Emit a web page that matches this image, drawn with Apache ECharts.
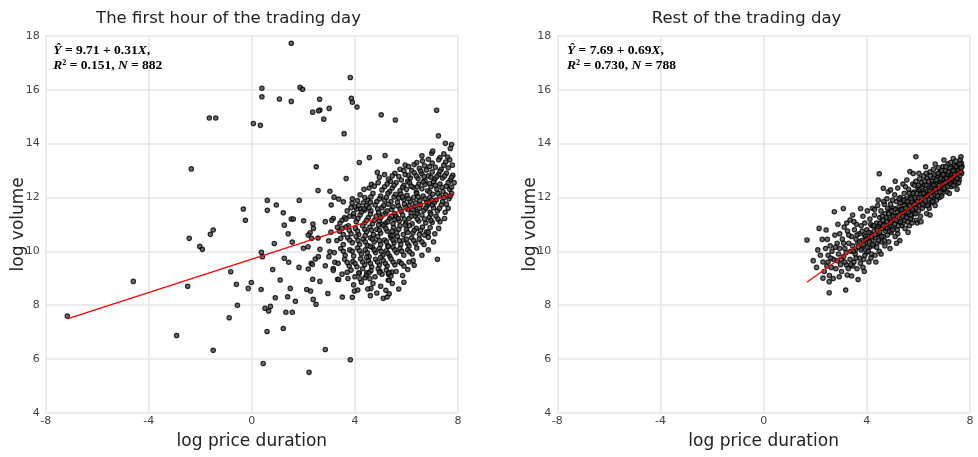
<!DOCTYPE html>
<html>
<head>
<meta charset="utf-8">
<title>Price duration vs. volume</title>
<script src="https://cdn.jsdelivr.net/npm/echarts@6/dist/echarts.min.js"></script>
<style>
  html, body { margin: 0; padding: 0; background: #fff; }
  #chart { width: 978px; height: 457px; }
</style>
</head>
<body>
<div id="chart"></div>
<script>
// ---- panel titles and axis text ----
const panelTitles = ['The first hour of the trading day', 'Rest of the trading day'];
const xAxisTitle = 'log price duration';
const yAxisTitle = 'log volume';
const xTicks = [-8, -4, 0, 4, 8];
const yTicks = [4, 6, 8, 10, 12, 14, 16, 18];

// ---- OLS fit results: [intercept, slope, R², N] ----
const firstHourFit = [9.71, 0.31, 0.151, 882];
const restOfDayFit = [7.69, 0.69, 0.730, 788];

// ---- first hour: points away from the main cloud [log duration, log volume] ----
const firstHourScattered = [
  [1.53,17.73],[3.82,16.46],[0.39,16.06],[0.39,15.74],[1.87,16.09],[1.97,16.02],[1.07,15.66],[1.53,15.57],
  [2.63,15.65],[3.86,15.68],[3.90,15.54],[4.08,15.36],[3.00,15.31],[2.64,15.25],[2.59,15.22],[2.36,15.17],
  [2.79,14.91],[-1.65,14.95],[-1.40,14.95],[0.06,14.75],[0.33,14.68],[3.58,14.37],[5.02,15.07],[5.57,14.88],
  [7.17,15.24],[7.24,14.29],[7.51,14.01],[7.75,13.97],[-2.35,13.06],[5.17,13.56],[4.56,13.48],[5.64,13.34],
  [4.17,13.30],[6.98,13.64],[2.50,13.14],[3.66,12.70],[4.87,12.93],[4.64,12.49],[2.57,12.26],[3.03,12.23],
  [3.19,12.01],[3.37,11.94],[3.55,11.84],[3.89,11.79],[3.08,11.72],[0.60,11.89],[0.60,11.52],[0.95,11.72],
  [1.84,11.89],[-0.33,11.57],[-0.25,11.15],[1.22,11.43],[1.53,11.20],[1.61,11.20],[2.01,11.13],[1.26,10.97],
  [2.85,11.10],[2.37,11.01],[-1.50,10.79],[-7.16,7.59],[-4.60,8.88],[-2.49,8.70],[-2.43,10.48],[-2.02,10.18],
  [-1.92,10.07],[-1.61,10.63],[-2.92,6.87],[-1.50,6.32],[-0.82,9.24],[-0.60,8.77],[-0.88,7.53],[-0.56,7.99],
  [-0.14,8.62],[-0.02,8.84],[0.37,9.96],[0.41,9.80],[0.36,8.58],[0.51,7.88],[0.65,7.78],[0.72,7.95],
  [0.59,7.02],[0.44,5.83],[0.81,9.32],[0.87,10.29],[1.10,8.93],[0.91,8.27],[1.26,9.74],[1.41,10.65],
  [1.43,9.59],[1.49,8.62],[1.39,8.31],[1.32,7.73],[1.57,7.73],[1.22,7.13],[1.69,8.14],[1.57,10.34],
  [1.83,9.40],[2.13,8.58],[2.28,8.52],[2.19,9.34],[2.00,10.11],[2.22,5.50],[2.38,8.21],[2.49,8.03],
  [2.30,9.55],[2.35,9.51],[2.36,8.96],[2.64,8.88],[2.46,9.71],[2.64,10.07],[2.85,6.35],[2.95,8.43],
  [2.85,9.46],[2.99,9.80],[3.82,5.97],[3.33,8.96],[3.37,8.95],[3.51,8.30],[3.90,8.29],[3.98,8.52],
  [4.11,8.56],[3.73,8.99],[3.16,9.36],[3.16,9.29],[3.22,9.59],[3.03,9.98],[5.10,8.25],[5.33,8.42],
  [4.62,8.62],[6.26,9.65],[5.29,8.92],[5.33,8.92],[5.43,9.23],[5.30,9.15],[4.58,8.98],[4.20,8.98],
  [4.97,9.26],[4.07,11.57],[4.22,11.59],[4.33,11.80],[4.39,11.53],[2.39,10.85],[2.26,10.69],[2.19,10.60],
  [2.32,10.48],[3.16,11.22],[3.32,10.89],[3.07,10.71],[2.98,10.39],[2.57,10.49],[2.18,10.17],[2.58,9.80],
  [4.17,9.18],[4.39,9.02],[4.46,9.20],[3.10,11.15],[3.42,11.05],[3.60,11.25],[3.75,10.95],[3.95,11.30]
];

// ---- first hour: the dense cloud at long durations ----
const firstHourCluster = [
  [6.85,13.42],[7.02,13.72],[7.30,13.48],[7.45,13.62],[7.60,13.50],[6.60,13.55],[7.70,13.82],
  [5.75,13.05],[5.95,13.20],[6.30,13.22],[6.50,13.08],[6.62,13.35],[6.78,13.02],[7.00,13.28],[7.12,13.12],
  [7.35,13.05],[7.52,13.32],[7.62,13.10],[7.78,13.20],[6.20,13.00],[6.90,13.15],
  [4.95,12.75],[5.30,12.68],[5.55,12.90],[5.80,12.65],[5.95,12.85],[6.15,12.72],[6.30,12.92],[6.45,12.70],
  [6.60,12.88],[6.72,12.62],[6.85,12.80],[7.00,12.95],[7.10,12.68],[7.25,12.85],[7.40,12.72],[7.55,12.90],
  [7.70,12.65],[7.80,12.82],[6.05,12.60],[6.55,12.98],
  [4.35,12.30],[4.75,12.42],[5.05,12.28],[5.25,12.50],[5.45,12.35],[5.60,12.55],[5.75,12.25],[5.90,12.45],
  [6.00,12.30],[6.12,12.55],[6.25,12.38],[6.38,12.20],[6.48,12.50],[6.60,12.32],[6.72,12.48],[6.82,12.25],
  [6.95,12.40],[7.05,12.58],[7.18,12.30],[7.30,12.50],[7.42,12.22],[7.55,12.42],[7.68,12.30],[7.85,12.55],
  [5.35,12.22],[6.90,12.20],
  [3.90,11.95],[4.20,12.10],[4.50,11.90],[4.70,12.15],[4.85,11.85],[5.00,12.05],[5.15,11.90],[5.28,12.15],
  [5.40,11.85],[5.52,12.02],[5.65,11.82],[5.78,12.12],[5.90,11.92],[6.02,12.08],[6.15,11.85],[6.28,12.00],
  [6.40,12.15],[6.52,11.88],[6.65,12.05],[6.78,11.82],[6.90,12.00],[7.02,12.12],[7.15,11.90],[7.28,12.05],
  [7.40,11.85],[7.52,12.10],[7.65,11.95],[7.75,12.15],[4.60,11.82],[5.70,11.98],[6.35,11.80],[7.08,11.80],
  [3.70,11.50],[4.00,11.65],[4.25,11.45],[4.45,11.70],[4.62,11.50],[4.78,11.72],[4.92,11.45],[5.05,11.62],
  [5.18,11.42],[5.30,11.75],[5.42,11.55],[5.55,11.40],[5.68,11.68],[5.80,11.48],[5.92,11.75],[6.05,11.55],
  [6.18,11.42],[6.30,11.65],[6.42,11.48],[6.55,11.72],[6.68,11.52],[6.80,11.68],[6.92,11.45],[7.05,11.62],
  [7.20,11.50],[7.35,11.72],[7.50,11.45],[7.62,11.60],[4.35,11.58],[5.25,11.50],[6.10,11.70],[6.88,11.78],
  [3.50,11.15],[3.80,11.30],[4.05,11.10],[4.20,11.35],[4.38,11.05],[4.52,11.25],[4.68,11.02],[4.82,11.30],
  [4.95,11.12],[5.08,11.35],[5.20,11.05],[5.35,11.22],[5.48,11.02],[5.60,11.30],[5.72,11.12],[5.85,11.35],
  [5.98,11.05],[6.10,11.22],[6.22,11.02],[6.35,11.30],[6.48,11.12],[6.60,11.35],[6.75,11.05],[6.88,11.25],
  [7.00,11.08],[7.15,11.30],[7.30,11.10],[7.48,11.22],[3.95,11.40],[4.60,11.38],[5.55,11.18],[6.40,11.40],
  [6.95,11.38],[5.05,11.00],
  [3.40,10.75],[3.65,10.90],[3.85,10.65],[4.02,10.85],[4.15,10.62],[4.30,10.95],[4.45,10.72],[4.58,10.90],
  [4.72,10.62],[4.85,10.82],[5.00,10.68],[5.12,10.95],[5.25,10.75],[5.38,10.60],[5.50,10.88],[5.62,10.70],
  [5.75,10.95],[5.88,10.62],[6.00,10.80],[6.12,10.95],[6.25,10.68],[6.38,10.85],[6.50,10.62],[6.62,10.90],
  [6.78,10.72],[6.92,10.88],[7.10,10.65],[7.25,10.85],[3.55,10.62],[4.92,10.98],[5.95,10.98],[6.70,10.60],
  [3.30,10.40],[3.55,10.25],[3.72,10.50],[3.90,10.32],[4.05,10.55],[4.18,10.25],[4.32,10.45],[4.48,10.22],
  [4.60,10.50],[4.75,10.35],[4.88,10.55],[5.00,10.25],[5.15,10.42],[5.28,10.20],[5.40,10.50],[5.52,10.32],
  [5.65,10.55],[5.78,10.25],[5.90,10.42],[6.05,10.28],[6.20,10.50],[6.35,10.30],[6.50,10.45],[6.68,10.25],
  [6.85,10.52],[7.05,10.35],[4.40,10.58],[5.45,10.58],[6.10,10.20],
  [3.20,9.95],[3.45,10.10],[3.62,9.85],[3.80,10.05],[3.95,9.82],[4.10,10.12],[4.25,9.90],[4.40,10.05],
  [4.55,9.80],[4.68,10.15],[4.80,9.95],[4.95,10.10],[5.08,9.85],[5.22,10.02],[5.35,9.82],[5.48,10.15],
  [5.62,9.95],[5.75,10.10],[5.90,9.85],[6.05,10.05],[6.22,9.90],[6.40,10.12],[6.60,9.85],[6.85,10.05],
  [7.20,9.70],[4.60,10.18],[5.30,10.18],
  [3.35,9.55],[3.60,9.70],[3.78,9.45],[3.92,9.62],[4.08,9.42],[4.22,9.72],[4.38,9.50],[4.52,9.65],
  [4.65,9.42],[4.80,9.70],[4.95,9.50],[5.10,9.65],[5.25,9.45],[5.40,9.72],[5.55,9.50],[5.72,9.62],
  [5.90,9.45],[6.10,9.60],[6.30,9.48],[5.00,9.78],[4.45,9.78],
  [3.50,9.15],[3.85,9.30],[4.00,9.05],[4.30,9.35],[4.45,9.12],[4.62,9.28],[4.78,9.05],[4.90,9.35],
  [5.05,9.15],[5.22,9.30],[5.40,9.08],[5.60,9.25],[5.85,9.10],[6.05,9.32],
  [3.95,8.75],[4.25,8.85],[4.50,8.60],[4.70,8.80],[4.85,8.45],[5.00,8.70],[5.20,8.55],[5.45,8.80],
  [5.70,8.60],[5.90,8.85],[4.60,8.35],[5.25,8.30],
  // overlapping marks in the densest part of the cloud
  [6.08,13.15],[6.40,13.30],[6.70,13.18],[7.25,13.40],[7.45,13.20],[7.68,13.40],
  [5.15,12.85],[5.45,12.80],[5.70,12.78],[6.08,12.82],[6.38,12.80],[6.68,12.78],[6.95,12.75],[7.18,12.78],
  [7.48,12.80],[7.75,12.75],[5.90,13.00],[7.30,12.98],
  [4.55,12.35],[4.90,12.55],[5.15,12.40],[5.38,12.60],[5.52,12.45],[5.85,12.38],[6.18,12.42],[6.42,12.40],
  [6.65,12.58],[6.90,12.52],[7.12,12.45],[7.38,12.38],[7.62,12.55],[7.75,12.38],
  [4.10,11.88],[4.38,12.00],[4.62,12.02],[4.95,11.95],[5.22,12.00],[5.58,12.12],[5.85,12.02],[6.08,11.95],
  [6.45,12.02],[6.72,11.95],[6.98,11.90],[7.22,12.15],[7.45,12.00],[7.70,12.05],
  [3.85,11.62],[4.15,11.70],[4.55,11.62],[4.88,11.58],[5.12,11.70],[5.48,11.65],[5.75,11.58],[5.98,11.62],
  [6.25,11.55],[6.50,11.60],[6.75,11.60],[7.00,11.72],[7.28,11.60],[7.55,11.75],
  [3.65,11.20],[4.12,11.22],[4.45,11.15],[4.75,11.15],[5.00,11.25],[5.28,11.10],[5.42,11.30],[5.68,11.22],
  [5.92,11.20],[6.18,11.30],[6.42,11.20],[6.70,11.20],[6.95,11.15],[7.22,11.20],
  [3.50,10.85],[3.78,10.78],[4.10,10.75],[4.38,10.82],[4.65,10.78],[4.95,10.78],[5.20,10.85],[5.45,10.75],
  [5.70,10.82],[6.05,10.70],[6.30,10.78],[6.55,10.78],[6.85,10.70],
  [3.45,10.48],[3.80,10.42],[4.12,10.40],[4.40,10.35],[4.68,10.45],[4.95,10.40],[5.22,10.35],[5.48,10.42],
  [5.72,10.40],[6.00,10.45],[6.28,10.40],[6.60,10.35],
  [3.55,10.00],[3.90,10.00],[4.18,10.02],[4.48,9.95],[4.75,10.05],[5.02,10.00],[5.28,9.92],[5.55,10.05],
  [5.82,10.00],[6.12,9.98],
  [3.70,9.58],[4.00,9.55],[4.30,9.60],[4.60,9.55],[4.88,9.60],[5.18,9.55],[5.48,9.60],[5.80,9.55],
  [3.70,9.22],[4.15,9.20],[4.55,9.20],[4.95,9.22],[5.32,9.20]
];

// ---- rest of the day: points along the diagonal band ----
const restOfDayBand = [
  [1.68,10.42],[1.92,9.65],[2.10,10.05],[2.15,10.85],[2.05,9.40],[2.20,9.85],
  [2.27,10.44],[2.42,10.79],[2.47,10.44],[2.30,9.60],[2.35,9.25],[2.40,10.10],[2.50,9.85],[2.54,8.87],
  [2.54,8.46],[2.45,9.45],[2.58,10.20],[2.30,9.00],[2.55,9.10],
  [2.74,11.47],[2.76,10.60],[2.65,10.00],[2.70,9.70],[2.70,8.99],[2.80,9.35],[2.85,10.30],[2.90,9.90],
  [2.95,10.65],[2.93,9.05],[2.98,9.50],[2.62,9.40],[2.88,11.00],[2.78,10.15],
  [3.09,11.59],[3.05,10.45],[3.10,9.80],[3.15,10.10],[3.18,8.56],[3.24,9.12],[3.20,9.50],[3.25,10.75],
  [3.30,10.30],[3.35,11.16],[3.35,9.70],[3.38,10.00],[3.02,9.25],[3.28,9.35],[3.12,10.90],[3.22,11.05],
  [3.40,10.55],
  [3.41,9.08],[3.45,11.35],[3.45,10.20],[3.50,9.60],[3.52,10.80],[3.55,9.90],[3.58,10.45],[3.60,11.00],
  [3.62,9.35],[3.66,8.95],[3.68,10.15],[3.70,10.65],[3.72,9.75],[3.76,11.59],[3.78,10.95],[3.45,9.45],
  [3.55,10.05],[3.65,10.30],[3.75,9.55],[3.50,11.10],[3.80,10.40],
  [3.82,10.10],[3.85,11.30],[3.88,9.70],[3.90,10.60],[3.92,11.05],[3.95,10.30],[3.98,9.95],[4.00,10.80],
  [4.02,11.50],[4.05,10.45],[4.08,9.60],[4.10,10.15],[4.12,11.20],[4.15,10.65],[4.18,9.90],[4.20,10.95],
  [3.85,9.40],[4.05,10.00],[4.15,11.00],[3.95,10.55],[4.20,10.40],[3.90,9.25],
  [4.22,11.60],[4.25,10.20],[4.28,10.75],[4.30,11.35],[4.32,9.85],[4.35,10.50],[4.38,11.05],[4.40,10.30],
  [4.42,11.70],[4.44,11.90],[4.45,10.90],[4.48,12.88],[4.48,10.00],[4.50,11.25],[4.52,10.60],[4.55,11.50],
  [4.58,10.35],[4.60,10.85],[4.25,10.95],[4.35,9.60],[4.45,10.65],[4.55,9.90],[4.30,11.55],[4.50,11.00],
  [4.62,11.15],[4.64,12.34],[4.65,10.55],[4.68,11.75],[4.70,10.20],[4.72,11.40],[4.75,10.85],[4.78,11.95],
  [4.80,10.60],[4.82,11.20],[4.83,12.21],[4.85,10.35],[4.88,11.55],[4.90,10.95],[4.92,12.28],[4.92,11.75],
  [4.95,10.70],[4.98,11.35],[5.00,11.90],[4.70,11.00],[4.80,11.60],[4.90,10.10],[4.75,11.25],[4.95,11.10],
  [4.65,11.85],
  [5.02,10.90],[5.05,11.60],[5.08,12.10],[5.10,10.55],[5.12,11.30],[5.15,11.85],[5.18,10.80],[5.20,12.35],
  [5.22,11.10],[5.25,11.65],[5.28,10.40],[5.30,12.00],[5.32,11.40],[5.35,10.95],[5.38,11.80],[5.40,12.50],
  [5.05,11.20],[5.15,10.30],[5.25,11.95],[5.35,11.20],[5.10,12.60],[5.30,11.55],[5.20,10.65],[5.40,11.05],
  [5.42,11.55],[5.45,12.15],[5.48,10.85],[5.50,11.35],[5.52,11.95],[5.55,12.65],[5.58,11.10],[5.60,11.75],
  [5.62,12.30],[5.65,10.95],[5.67,12.96],[5.68,11.50],[5.70,12.05],[5.72,11.25],[5.75,11.85],[5.78,12.50],
  [5.80,12.89],[5.80,11.60],[5.45,11.70],[5.55,11.45],[5.65,12.15],[5.75,11.05],[5.50,12.40],[5.60,10.70],
  [5.70,11.35],
  [5.82,12.20],[5.85,11.40],[5.88,11.95],[5.90,13.51],[5.90,12.60],[5.92,11.15],[5.95,11.75],[5.98,12.35],
  [6.00,11.50],[6.02,12.90],[6.05,12.10],[6.08,11.30],[6.10,11.85],[6.12,12.55],[6.15,11.60],[6.18,12.25],
  [6.20,11.95],[5.85,12.45],[5.95,11.05],[6.05,12.70],[6.15,12.00],[5.88,11.60],[6.10,11.10],[6.20,12.80],
  [6.00,12.25],
  [6.22,12.45],[6.25,11.70],[6.28,13.14],[6.30,12.15],[6.32,11.40],[6.35,12.70],[6.38,11.95],[6.40,12.40],
  [6.42,11.60],[6.45,12.95],[6.48,12.15],[6.50,11.80],[6.52,12.60],[6.55,12.25],[6.58,13.05],[6.60,11.95],
  [6.25,12.05],[6.35,12.25],[6.45,11.35],[6.55,12.45],[6.30,12.90],[6.40,11.75],[6.50,12.35],[6.60,12.75],
  [6.62,12.10],[6.65,13.24],[6.68,12.50],[6.70,11.90],[6.72,12.80],[6.75,12.30],[6.78,13.10],[6.80,12.60],
  [6.82,12.00],[6.85,12.95],[6.88,12.40],[6.90,12.75],[6.92,12.15],[6.95,13.15],[6.98,12.55],[6.99,13.39],
  [7.00,12.85],[6.70,12.20],[6.80,12.35],[6.90,12.05],[6.75,12.65],[6.95,12.30],[6.65,11.70],
  [7.02,12.30],[7.05,13.00],[7.08,12.60],[7.10,12.85],[7.12,12.20],[7.15,13.25],[7.18,12.50],[7.20,12.95],
  [7.22,12.70],[7.25,13.30],[7.28,12.40],[7.30,12.85],[7.32,13.10],[7.35,13.45],[7.35,12.60],[7.38,12.95],
  [7.40,13.20],[7.10,12.45],[7.20,12.15],[7.30,12.55],[7.05,12.75],[7.25,12.75],
  [7.42,12.75],[7.45,13.35],[7.48,12.50],[7.50,13.00],[7.52,12.85],[7.55,13.20],[7.58,12.65],[7.60,13.05],
  [7.62,13.40],[7.65,13.51],[7.67,13.27],[7.68,12.90],[7.69,13.15],[7.50,12.30],[7.60,12.80],[7.45,13.05],
  // overlapping marks close to the fitted line
  [3.48,10.00],[3.58,9.75],[3.62,10.60],[3.72,10.35],[3.78,10.05],[3.82,10.75],[3.88,10.25],[3.92,9.85],
  [3.98,10.45],[4.02,10.15],[4.08,10.70],[4.10,10.35],[4.16,9.75],[4.18,10.55],[4.22,10.25],[4.28,10.95],
  [4.32,10.60],[4.38,10.15],[4.40,10.80],[4.45,10.40],[4.50,10.70],[4.52,11.05],[4.58,10.55],[4.60,11.30],
  [4.64,10.95],[4.68,10.40],[4.72,10.75],[4.78,11.10],[4.80,10.85],[4.85,11.40],[4.88,10.75],[4.92,11.05],
  [4.96,11.50],[5.00,10.80],[5.02,11.30],[5.08,11.00],[5.10,11.55],[5.14,11.15],[5.18,11.45],[5.22,10.95],
  [5.25,11.35],[5.30,11.80],[5.32,11.10],[5.36,11.55],[5.40,11.30],[5.44,11.90],[5.46,11.15],[5.50,11.60],
  [5.54,11.25],[5.58,11.85],[5.62,11.45],[5.66,11.70],[5.70,11.20],[5.72,11.95],[5.76,11.55],[5.80,12.15],
  [5.84,11.75],[5.86,12.00],[5.90,11.40],[5.94,12.15],[5.96,11.85],[6.00,12.45],[6.04,11.70],[6.06,12.30],
  [6.10,12.00],[6.14,12.35],[6.16,11.75],[6.20,12.15],[6.24,12.60],[6.26,11.90],[6.30,12.45],[6.34,12.05],
  [6.36,11.70],[6.40,12.60],[6.44,12.25],[6.46,12.80],[6.50,12.05],[6.54,12.50],[6.56,11.85],[6.60,12.45],
  [6.64,12.85],[6.66,12.30],[6.70,12.65],[6.74,12.05],[6.76,12.90],[6.80,12.45],[6.84,12.20],[6.86,12.70],
  [6.90,13.00],[6.94,12.50],[6.96,12.85],[7.00,12.35],[7.04,12.55],[7.06,13.15],[7.10,12.70],[7.14,12.40],
  [7.16,12.95],[7.20,12.60],[7.24,13.10],[7.26,12.50],[7.30,12.70],[7.34,13.00],[7.36,12.45],[7.40,12.85],
  [7.44,12.60],[7.46,13.15],[7.50,12.70],[7.54,13.00],[7.56,12.55],[7.60,13.25],[7.64,12.95],[7.66,13.10],
  [3.00,9.70],[3.10,10.30],[3.20,9.95],[3.30,10.60],[3.38,9.50],[2.60,9.75],[2.85,9.65],[2.95,10.10],
  [2.50,9.60],[3.15,9.60]
];

// ---- layout ----
const plotTop = 36, plotHeight = 376.7;
const panels = [
  { left: 45.7, width: 412.3 },
  { left: 557.3, width: 412.7 }
];
const textFont = 'DejaVu Sans, Verdana, sans-serif';
const mathFont = '"Liberation Serif", "DejaVu Serif", serif';

// fitted line across the observed range of x
function fitSegment(points, fit) {
  const xs = points.map(p => p[0]);
  const lo = Math.min(...xs), hi = Math.max(...xs);
  return [[lo, fit[0] + fit[1] * lo], [hi, fit[0] + fit[1] * hi]];
}

function fitLabel(fit) {
  const sign = fit[1] >= 0 ? '+' : '−';
  return '{i|Ŷ} = ' + fit[0].toFixed(2) + ' ' + sign + ' ' + Math.abs(fit[1]).toFixed(2) + '{i|X},\n' +
         '{i|R}² = ' + fit[2].toFixed(3) + ', {i|N} = ' + fit[3];
}

const firstHourPoints = firstHourScattered.concat(firstHourCluster);
const restOfDayPoints = restOfDayBand;

const axisLabelStyle = { color: '#444', fontSize: 11, fontFamily: textFont };
const gridLineStyle = { color: '#e6e6e6', width: 1.5 };

function xAxisFor(i) {
  return {
    gridIndex: i, type: 'value',
    min: xTicks[0], max: xTicks[xTicks.length - 1], interval: xTicks[1] - xTicks[0],
    axisLine: { show: false }, axisTick: { show: false },
    axisLabel: Object.assign({ margin: 3 }, axisLabelStyle),
    splitLine: { show: true, lineStyle: gridLineStyle }
  };
}
function yAxisFor(i) {
  return {
    gridIndex: i, type: 'value',
    min: yTicks[0], max: yTicks[yTicks.length - 1], interval: yTicks[1] - yTicks[0],
    axisLine: { show: false }, axisTick: { show: false },
    axisLabel: Object.assign({ margin: 6 }, axisLabelStyle),
    splitLine: { show: true, lineStyle: gridLineStyle }
  };
}

const scatterStyle = {
  type: 'scatter', symbol: 'circle', symbolSize: 4.4, silent: true,
  itemStyle: { color: '#4a4a4a', borderColor: '#000000', borderWidth: 1.2 }
};
const fitStyle = {
  type: 'line', showSymbol: false, silent: true, z: 5,
  lineStyle: { color: '#ff0000', width: 1.3 }
};

const titleCenters = [228.5, 746.5];
const graphics = [];
panels.forEach((p, i) => {
  graphics.push({
    type: 'text', x: titleCenters[i], y: 19,
    style: { text: panelTitles[i], font: '16.5px ' + textFont, fill: '#222',
             textAlign: 'center', textVerticalAlign: 'middle' }
  });
  graphics.push({
    type: 'text', x: p.left + p.width / 2, y: 442,
    style: { text: xAxisTitle, font: '17px ' + textFont, fill: '#222',
             textAlign: 'center', textVerticalAlign: 'middle' }
  });
  graphics.push({
    type: 'text', x: p.left - 27, y: plotTop + plotHeight / 2, rotation: Math.PI / 2,
    style: { text: yAxisTitle, font: '17px ' + textFont, fill: '#222',
             textAlign: 'center', textVerticalAlign: 'middle' }
  });
});

const fits = [firstHourFit, restOfDayFit];
const annotationX = [53.3, 567];
fits.forEach((fit, i) => {
  graphics.push({
    type: 'text', x: annotationX[i], y: 43, z: 10,
    style: {
      text: fitLabel(fit),
      font: 'bold 13.5px ' + mathFont, fill: '#000',
      lineHeight: 15,
      rich: { i: { font: 'italic bold 13.5px ' + mathFont, fill: '#000', lineHeight: 15 } }
    }
  });
});

const chart = echarts.init(document.getElementById('chart'), null, { renderer: 'canvas' });
chart.setOption({
  animation: false,
  backgroundColor: '#ffffff',
  grid: panels.map(p => ({ left: p.left, top: plotTop, width: p.width, height: plotHeight, containLabel: false })),
  xAxis: [xAxisFor(0), xAxisFor(1)],
  yAxis: [yAxisFor(0), yAxisFor(1)],
  series: [
    Object.assign({ xAxisIndex: 0, yAxisIndex: 0, data: firstHourPoints }, scatterStyle),
    Object.assign({ xAxisIndex: 0, yAxisIndex: 0, data: fitSegment(firstHourPoints, firstHourFit) }, fitStyle),
    Object.assign({ xAxisIndex: 1, yAxisIndex: 1, data: restOfDayPoints }, scatterStyle),
    Object.assign({ xAxisIndex: 1, yAxisIndex: 1, data: fitSegment(restOfDayPoints, restOfDayFit) }, fitStyle)
  ],
  graphic: graphics
});
</script>
</body>
</html>
